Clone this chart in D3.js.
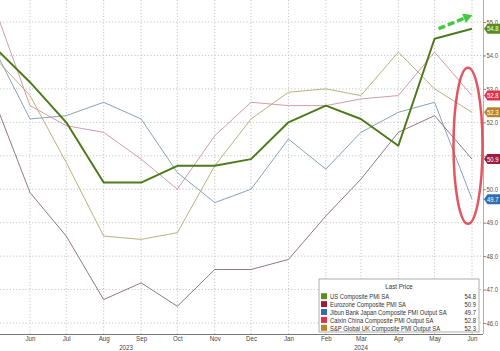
<!DOCTYPE html>
<html>
<head>
<meta charset="utf-8">
<script src="https://cdn.jsdelivr.net/npm/d3@7"></script>
<style>
  body { margin: 0; background: #fff; }
  svg { display: block; font-family: "Liberation Sans", Arial, sans-serif; }
</style>
</head>
<body>
<div id="chart"></div>
<script>
// monthly readings, May 2023 .. Jun 2024
const months = ["2023-05", "2023-06", "2023-07", "2023-08", "2023-09", "2023-10", "2023-11",
    "2023-12", "2024-01", "2024-02", "2024-03", "2024-04", "2024-05", "2024-06"];
const usPmi = [54.3, 53.2, 52.0, 50.2, 50.2, 50.7, 50.7, 50.9, 52.0, 52.5, 52.1, 51.3, 54.5, 54.8];
const ezPmi = [52.8, 49.9, 48.6, 46.7, 47.2, 46.5, 47.6, 47.6, 47.9, 49.2, 50.3, 51.7, 52.2, 50.9];
const jpPmi = [54.3, 52.1, 52.2, 52.6, 52.1, 50.5, 49.6, 50.0, 51.5, 50.6, 51.7, 52.3, 52.6, 49.7];
const cnPmi = [55.6, 52.5, 51.9, 51.7, 50.9, 50.0, 51.6, 52.6, 52.5, 52.5, 52.7, 52.8, 54.1, 52.8];
const ukPmi = [54.0, 52.8, 50.8, 48.6, 48.5, 48.7, 50.7, 52.1, 52.9, 53.0, 52.8, 54.1, 53.0, 52.3];

const seriesNames = ["US Composite PMI SA", "Eurozone Composite PMI SA",
    "Jibun Bank Japan Composite PMI Output SA", "Caixin China Composite PMI Output SA",
    "S&P Global UK Composite PMI Output SA"];
const tickMonths = ["2023-06", "2023-07", "2023-08", "2023-09", "2023-10", "2023-11", "2023-12",
    "2024-01", "2024-02", "2024-03", "2024-04", "2024-05", "2024-06"];
const yTicks = [46, 47, 48, 49, 50, 51, 52, 53, 54, 55];

const parseMonth = d3.timeParse("%Y-%m");

// colours: line, tag / legend swatch
const series = [
    {name: seriesNames[0], values: usPmi, line: "#4d7a1b", tag: "#5a8c1e", width: 2},
    {name: seriesNames[1], values: ezPmi, line: "#93758f", tag: "#9b1c40", width: 1},
    {name: seriesNames[2], values: jpPmi, line: "#86a3b8", tag: "#2f6fb0", width: 1},
    {name: seriesNames[3], values: cnPmi, line: "#d59ba8", tag: "#e1324c", width: 1},
    {name: seriesNames[4], values: ukPmi, line: "#bcaf80", tag: "#b8862a", width: 1}
];

const width = 500, height = 351;
const plot = {left: 0, right: 483, top: 0, bottom: 334};

// squeeze text horizontally to mimic the narrow terminal font
function narrow(sel, f) {
    sel.each(function() {
        const w = this.getComputedTextLength();
        d3.select(this).attr("textLength", w * f).attr("lengthAdjust", "spacingAndGlyphs");
    });
}

const svg = d3.select("#chart").append("svg")
    .attr("width", width)
    .attr("height", height);

const x = d3.scaleTime()
    .domain([parseMonth("2023-06"), parseMonth("2024-06")])
    .range([30, 472]);

const y = d3.scaleLinear()
    .domain([46, 55])
    .range([323, 22]);

svg.append("clipPath").attr("id", "plotClip")
    .append("rect")
    .attr("x", plot.left).attr("y", plot.top)
    .attr("width", plot.right - plot.left).attr("height", plot.bottom - plot.top);

// grid
svg.append("g")
    .selectAll("line")
    .data(yTicks)
    .enter().append("line")
    .attr("x1", plot.left).attr("x2", plot.right)
    .attr("y1", d => y(d)).attr("y2", d => y(d))
    .attr("stroke", "#c4c4c4")
    .attr("stroke-dasharray", "1.2,2")
    .attr("stroke-width", 1);

svg.append("g")
    .selectAll("line")
    .data(tickMonths)
    .enter().append("line")
    .attr("x1", d => x(parseMonth(d))).attr("x2", d => x(parseMonth(d)))
    .attr("y1", plot.top).attr("y2", plot.bottom)
    .attr("stroke", "#c4c4c4")
    .attr("stroke-dasharray", "1.2,2")
    .attr("stroke-width", 1);

// axes
const xAxis = d3.axisBottom(x)
    .tickValues(tickMonths.map(parseMonth))
    .tickFormat(d3.timeFormat("%b"))
    .tickSize(0)
    .tickPadding(2);

const gx = svg.append("g")
    .attr("transform", "translate(0," + plot.bottom + ")")
    .call(xAxis);
gx.select(".domain").attr("stroke", "#777").attr("d", "M" + plot.left + ",0.5H" + plot.right);
gx.selectAll("text").attr("fill", "#444").style("font-size", "7px").call(narrow, 0.88);

svg.selectAll(".year")
    .data([["2023", 126], ["2024", 361]])
    .enter().append("text")
    .attr("class", "year")
    .attr("x", d => d[1]).attr("y", 350)
    .attr("text-anchor", "middle").attr("fill", "#444")
    .style("font-size", "7px")
    .text(d => d[0])
    .call(narrow, 0.88);

const yAxis = d3.axisRight(y)
    .tickValues(yTicks)
    .tickFormat(d3.format(".1f"))
    .tickSize(3)
    .tickPadding(0.5);

const gy = svg.append("g")
    .attr("transform", "translate(" + plot.right + ",0)")
    .call(yAxis);
gy.select(".domain").attr("stroke", "#a9b98a").attr("d", "M0.5,0V" + plot.bottom);
gy.selectAll(".tick line").attr("stroke", "#888");
gy.selectAll("text").attr("fill", "#555").style("font-size", "7px").call(narrow, 0.85);

// lines
const line = d3.line()
    .x((d, i) => x(parseMonth(months[i])))
    .y(d => y(d));

const lineOrder = [4, 3, 2, 1, 0];
svg.append("g")
    .attr("clip-path", "url(#plotClip)")
    .selectAll("path")
    .data(lineOrder.map(i => series[i]))
    .enter().append("path")
    .attr("d", d => line(d.values))
    .attr("fill", "none")
    .attr("stroke", d => d.line)
    .attr("stroke-width", d => d.width)
    .attr("stroke-linejoin", "round");

// last value tags
const tags = svg.append("g")
    .selectAll("g")
    .data(series)
    .enter().append("g")
    .attr("transform", d => "translate(" + plot.right + "," + y(d.values[d.values.length - 1]) + ")");

tags.append("path")
    .attr("d", "M1,0L4.5,-5H20V5H4.5Z")
    .attr("fill", d => d.tag);

tags.append("text")
    .attr("x", 4).attr("y", 2.6)
    .attr("fill", "#fff")
    .style("font-size", "7px")
    .text(d => d.values[d.values.length - 1].toFixed(1))
    .call(narrow, 0.85);

// annotations: green dashed arrow and red ellipse
const arrowStart = [parseMonth("2024-05"), 54.8];
const arrowEnd = [parseMonth("2024-06"), 55.05];
const ax1 = x(arrowStart[0]) + 4, ay1 = y(arrowStart[1]);
const ax2 = x(arrowEnd[0]) - 8, ay2 = y(arrowEnd[1]) - 2;
svg.append("line")
    .attr("x1", ax1).attr("y1", ay1)
    .attr("x2", ax2).attr("y2", ay2)
    .attr("stroke", "#3fcc3f")
    .attr("stroke-width", 3.5)
    .attr("stroke-dasharray", "7,3");
const ang = Math.atan2(ay2 - ay1, ax2 - ax1);
const tip = [ax2 + 9 * Math.cos(ang), ay2 + 9 * Math.sin(ang)];
const px = -Math.sin(ang), py = Math.cos(ang);
svg.append("path")
    .attr("d", "M" + tip[0] + "," + tip[1] +
        "L" + (ax2 + 5 * px) + "," + (ay2 + 5 * py) +
        "L" + (ax2 - 5 * px) + "," + (ay2 - 5 * py) + "Z")
    .attr("fill", "#3fcc3f");

svg.append("ellipse")
    .attr("cx", x(parseMonth("2024-06")) - 4)
    .attr("cy", y(51.3))
    .attr("rx", 14.5)
    .attr("ry", 78)
    .attr("fill", "none")
    .attr("stroke", "#e0424f")
    .attr("stroke-width", 2.5)
    .attr("opacity", 0.9);

// legend
const legend = svg.append("g").attr("transform", "translate(319,279)");
legend.append("rect")
    .attr("width", 160).attr("height", 53)
    .attr("fill", "#fff")
    .attr("stroke", "#999")
    .attr("stroke-width", 0.8);
legend.append("text")
    .attr("x", 80).attr("y", 10)
    .attr("text-anchor", "middle")
    .attr("fill", "#333")
    .style("font-size", "7px")
    .text("Last Price")
    .call(narrow, 0.88);

const rows = legend.selectAll(".row")
    .data(series)
    .enter().append("g")
    .attr("class", "row")
    .attr("transform", (d, i) => "translate(0," + (17.5 + i * 7.9) + ")");
rows.append("rect")
    .attr("x", 2).attr("y", -3.3)
    .attr("width", 6).attr("height", 6)
    .attr("fill", d => d.tag);
rows.append("text")
    .attr("x", 11).attr("y", 2.4)
    .attr("fill", "#333")
    .style("font-size", "6.8px")
    .text(d => d.name)
    .call(narrow, 0.86);
rows.append("text")
    .attr("x", 157).attr("y", 2.4)
    .attr("text-anchor", "end")
    .attr("fill", "#333")
    .style("font-size", "6.8px")
    .text(d => d.values[d.values.length - 1].toFixed(1))
    .call(narrow, 0.86);
</script>
</body>
</html>
